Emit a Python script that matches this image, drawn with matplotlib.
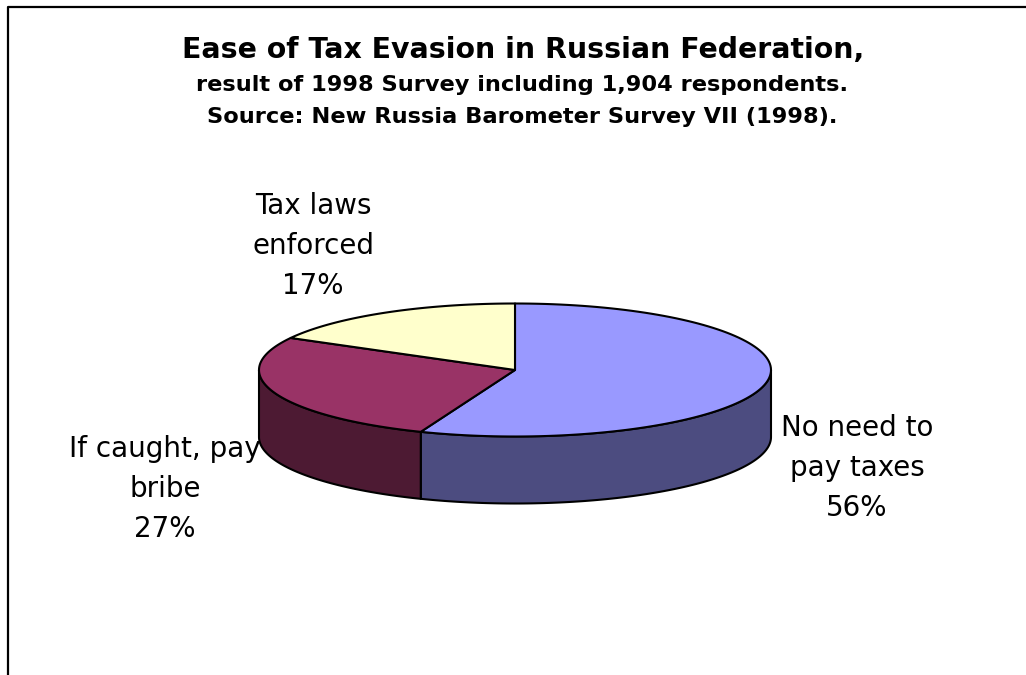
import numpy as np
import matplotlib
matplotlib.use('Agg')
import matplotlib.pyplot as plt
from matplotlib.patches import Polygon

plt.rcParams['font.family'] = ['DejaVu Sans']

# survey answers, clockwise from 12 o'clock
answers = ['No need to\npay taxes', 'If caught, pay\nbribe', 'Tax laws\nenforced']
shares = [56, 27, 17]

top_colors = ['#9999FF', '#993366', '#FFFFCC']
side_colors = ['#4C4C80', '#4D1A33', '#80801A']

# where each label block is centred (pixels)
label_pos = [(857, 468), (165, 489), (313, 246)]

W, H = 1026, 675
fig = plt.figure(figsize=(W / 100, H / 100), dpi=100)
ax = fig.add_axes([0, 0, 1, 1])
ax.set_xlim(0, W)
ax.set_ylim(H, 0)
ax.axis('off')

# outer chart frame (only top and left edges are inside the image)
ax.plot([8, 8, W], [H, 7, 7], color='black', lw=1.6, solid_capstyle='butt')

cx, cy = 515, 370
rx, ry = 256, 66.5
depth = 67


def rim(t0, t1, dy=0.0, n=120):
    t = np.radians(np.linspace(t0, t1, n))
    return np.column_stack([cx + rx * np.sin(t), cy - ry * np.cos(t) + dy])


fracs = np.array(shares, dtype=float) / sum(shares)
edges = np.concatenate([[0], np.cumsum(fracs)]) * 360

# front walls first: only the part of the rim that faces the viewer
for i in range(len(shares)):
    a0 = max(edges[i], 90)
    a1 = min(edges[i + 1], 270)
    if a1 <= a0:
        continue
    upper = rim(a0, a1)
    lower = rim(a0, a1, dy=depth)[::-1]
    wall = Polygon(np.vstack([upper, lower]), closed=True,
                   facecolor=side_colors[i], edgecolor='black', lw=1.5,
                   joinstyle='round')
    ax.add_patch(wall)

# top faces
for i in range(len(shares)):
    pts = np.vstack([[cx, cy], rim(edges[i], edges[i + 1])])
    face = Polygon(pts, closed=True, facecolor=top_colors[i],
                   edgecolor='black', lw=1.5, joinstyle='round')
    ax.add_patch(face)

for name, share, (lx, ly) in zip(answers, shares, label_pos):
    ax.text(lx, ly, f'{name}\n{share}%', ha='center', va='center',
            fontsize=20, linespacing=1.55, color='black')

ax.text(W / 2 + 10, 50, 'Ease of Tax Evasion in Russian Federation,',
        ha='center', va='center', fontsize=20.4, fontweight='bold')
ax.text(W / 2 + 9, 85, 'result of 1998 Survey including 1,904 respondents.',
        ha='center', va='center', fontsize=16.2, fontweight='bold')
ax.text(W / 2 + 9, 117, 'Source: New Russia Barometer Survey VII (1998).',
        ha='center', va='center', fontsize=16.2, fontweight='bold')

fig.savefig('out.png', dpi=100)
